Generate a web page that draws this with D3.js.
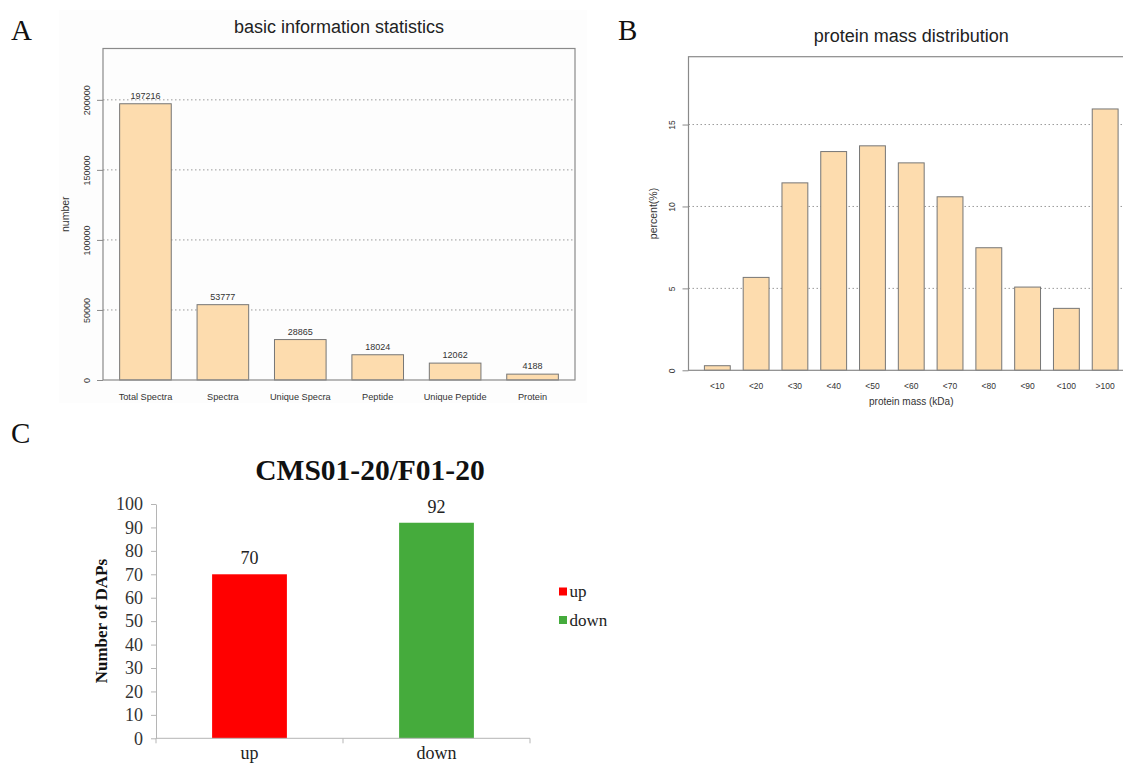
<!DOCTYPE html>
<html>
<head>
<meta charset="utf-8">
<script src="https://cdn.jsdelivr.net/npm/d3@7"></script>
<style>
  body { margin: 0; background: #fff; }
  svg { display: block; }
</style>
</head>
<body>
<svg id="fig" width="1123" height="765"></svg>
<script>
// ---- data ----
var statCategories = ["Total Spectra", "Spectra", "Unique Specra", "Peptide", "Unique Peptide", "Protein"];
var statValues = [197216, 53777, 28865, 18024, 12062, 4188];
var statTicks = [0, 50000, 100000, 150000, 200000];

var massCategories = ["<10", "<20", "<30", "<40", "<50", "<60", "<70", "<80", "<90", "<100", ">100"];
var massPercent = [0.28, 5.67, 11.44, 13.35, 13.70, 12.66, 10.59, 7.48, 5.08, 3.78, 15.95];
var massTicks = [0, 5, 10, 15];

var dapCategories = ["up", "down"];
var dapValues = [70, 92];
var dapColors = ["#ff0000", "#45ab3c"];
var dapTicks = [0, 10, 20, 30, 40, 50, 60, 70, 80, 90, 100];

var svg = d3.select("#fig");
var sans = "'Liberation Sans', Arial, sans-serif";
var serif = "'Liberation Serif', 'Times New Roman', serif";
var barFill = "#fddcae", barStroke = "#767676", boxStroke = "#8a8a8a";

// panel letters
[["A", 11, 40], ["B", 618, 40], ["C", 11, 443]].forEach(function (d) {
  svg.append("text").attr("x", d[1]).attr("y", d[2])
    .attr("font-family", serif).attr("font-size", 29).attr("fill", "#111")
    .text(d[0]);
});

// R style barplot (panels A and B)
function rBarplot(opt) {
  var g = svg.append("g");
  var x = d3.scaleBand()
    .domain(opt.categories)
    .range([opt.left, opt.right])
    .paddingInner(1 / 3)
    .paddingOuter(opt.outer);
  var y = d3.scaleLinear()
    .domain([0, d3.max(opt.values) * 1.2])
    .range([opt.bottom, opt.top]);

  // dotted grid
  g.append("g").selectAll("line")
    .data(opt.ticks.filter(function (t) { return t > 0; }))
    .enter().append("line")
    .attr("x1", opt.left).attr("x2", opt.right)
    .attr("y1", function (d) { return y(d); })
    .attr("y2", function (d) { return y(d); })
    .attr("stroke", "#9a9a9a").attr("stroke-width", 1)
    .attr("stroke-dasharray", "1.5,2.5");

  // bars
  g.append("g").selectAll("rect")
    .data(opt.values)
    .enter().append("rect")
    .attr("x", function (d, i) { return x(opt.categories[i]); })
    .attr("width", x.bandwidth())
    .attr("y", function (d) { return y(d); })
    .attr("height", function (d) { return y(0) - y(d); })
    .attr("fill", barFill).attr("stroke", barStroke).attr("stroke-width", 1);

  if (opt.valueLabels) {
    g.append("g").selectAll("text")
      .data(opt.values)
      .enter().append("text")
      .attr("x", function (d, i) { return x(opt.categories[i]) + x.bandwidth() / 2; })
      .attr("y", function (d) { return y(d) - 5; })
      .attr("text-anchor", "middle")
      .attr("font-family", sans).attr("font-size", 9).attr("fill", "#333")
      .text(function (d) { return d; });
  }

  // box
  g.append("rect")
    .attr("x", opt.left).attr("y", opt.top)
    .attr("width", opt.right - opt.left).attr("height", opt.bottom - opt.top)
    .attr("fill", "none").attr("stroke", boxStroke).attr("stroke-width", 1.2);

  // y axis with rotated labels
  var yAxis = g.append("g").attr("transform", "translate(" + opt.left + ",0)")
    .call(d3.axisLeft(y).tickValues(opt.ticks).tickSize(6).tickFormat(d3.format("d")));
  yAxis.select(".domain").remove();
  yAxis.selectAll(".tick line").attr("stroke", boxStroke);
  yAxis.selectAll(".tick text")
    .attr("x", null).attr("dy", null)
    .attr("transform", "translate(" + (opt.tickLabelX - opt.left) + ",0) rotate(-90)")
    .attr("dy", "0.35em")
    .attr("text-anchor", "middle")
    .attr("font-family", sans).attr("font-size", opt.tickSize).attr("fill", "#333");

  // x labels
  g.append("g").selectAll("text")
    .data(opt.categories)
    .enter().append("text")
    .attr("x", function (d) { return x(d) + x.bandwidth() / 2; })
    .attr("y", opt.xLabelY)
    .attr("text-anchor", "middle")
    .attr("font-family", sans).attr("font-size", opt.xLabelSize).attr("fill", "#333")
    .text(function (d) { return d; });

  // titles
  g.append("text")
    .attr("x", (opt.left + opt.right) / 2).attr("y", opt.titleY)
    .attr("text-anchor", "middle")
    .attr("font-family", sans).attr("font-size", 18).attr("fill", "#222")
    .text(opt.title);
  g.append("text")
    .attr("transform", "translate(" + opt.yTitleX + "," + (opt.top + opt.bottom) / 2 + ") rotate(-90)")
    .attr("dy", "0.35em")
    .attr("text-anchor", "middle")
    .attr("font-family", sans).attr("font-size", 10.5).attr("fill", "#333")
    .text(opt.yTitle);
  if (opt.xTitle) {
    g.append("text")
      .attr("x", (opt.left + opt.right) / 2).attr("y", opt.xTitleY)
      .attr("text-anchor", "middle")
      .attr("font-family", sans).attr("font-size", 10).attr("fill", "#333")
      .text(opt.xTitle);
  }
}

// very faint panel background of figure A
svg.append("rect").attr("x", 59).attr("y", 10).attr("width", 528).attr("height", 393)
  .attr("fill", "#fdfdfd");

rBarplot({
  categories: statCategories, values: statValues, ticks: statTicks,
  left: 103, right: 575, top: 48.5, bottom: 380, outer: 0.215,
  tickLabelX: 87, tickSize: 9, xLabelY: 400, xLabelSize: 9.2,
  valueLabels: true,
  title: "basic information statistics", titleY: 33,
  yTitle: "number", yTitleX: 65
});

rBarplot({
  categories: massCategories, values: massPercent, ticks: massTicks,
  left: 688.5, right: 1134, top: 56.7, bottom: 370.3, outer: 0.41,
  tickLabelX: 672, tickSize: 8.5, xLabelY: 388.5, xLabelSize: 8.5,
  valueLabels: false,
  title: "protein mass distribution", titleY: 42,
  yTitle: "percent(%)", yTitleX: 653,
  xTitle: "protein mass (kDa)", xTitleY: 405
});

// ---- panel C: Excel style column chart ----
var cLeft = 156, cRight = 530, cTop = 504, cBottom = 738.3;
var gc = svg.append("g");
var xc = d3.scaleBand().domain(dapCategories).range([cLeft, cRight])
  .paddingInner(0.6).paddingOuter(0.3);
var yc = d3.scaleLinear().domain([0, 100]).range([cBottom, cTop]);

gc.append("g").selectAll("rect")
  .data(dapValues)
  .enter().append("rect")
  .attr("x", function (d, i) { return xc(dapCategories[i]); })
  .attr("width", xc.bandwidth())
  .attr("y", function (d) { return yc(d); })
  .attr("height", function (d) { return yc(0) - yc(d); })
  .attr("fill", function (d, i) { return dapColors[i]; });

gc.append("g").selectAll("text")
  .data(dapValues)
  .enter().append("text")
  .attr("x", function (d, i) { return xc(dapCategories[i]) + xc.bandwidth() / 2; })
  .attr("y", function (d) { return yc(d) - 10; })
  .attr("text-anchor", "middle")
  .attr("font-family", serif).attr("font-size", 18).attr("fill", "#222")
  .text(function (d) { return d; });

var ycAxis = gc.append("g").attr("transform", "translate(" + cLeft + ",0)")
  .call(d3.axisLeft(yc).tickValues(dapTicks).tickSize(5).tickSizeOuter(0).tickPadding(8));
ycAxis.select(".domain").attr("stroke", "#b5b5b5");
ycAxis.selectAll(".tick line").attr("stroke", "#b5b5b5");
ycAxis.selectAll(".tick text")
  .attr("font-family", serif).attr("font-size", 18).attr("fill", "#333");

// x axis line with category separators
var sepX = [cLeft, (xc("up") + xc.bandwidth() + xc("down")) / 2, cRight];
gc.append("line").attr("x1", cLeft).attr("x2", cRight)
  .attr("y1", cBottom).attr("y2", cBottom).attr("stroke", "#b5b5b5");
gc.append("g").selectAll("line")
  .data(sepX).enter().append("line")
  .attr("x1", function (d) { return d; }).attr("x2", function (d) { return d; })
  .attr("y1", cBottom).attr("y2", cBottom + 5).attr("stroke", "#b5b5b5");

gc.append("g").selectAll("text")
  .data(dapCategories)
  .enter().append("text")
  .attr("x", function (d) { return xc(d) + xc.bandwidth() / 2; })
  .attr("y", 759)
  .attr("text-anchor", "middle")
  .attr("font-family", serif).attr("font-size", 18).attr("fill", "#222")
  .text(function (d) { return d; });

gc.append("text")
  .attr("x", 370).attr("y", 480)
  .attr("text-anchor", "middle")
  .attr("font-family", serif).attr("font-size", 29.5).attr("font-weight", "bold").attr("fill", "#111")
  .text("CMS01-20/F01-20");

gc.append("text")
  .attr("transform", "translate(101," + (cTop + cBottom) / 2 + ") rotate(-90)")
  .attr("dy", "0.35em")
  .attr("text-anchor", "middle")
  .attr("font-family", serif).attr("font-size", 17).attr("font-weight", "bold").attr("fill", "#111")
  .text("Number of DAPs");

// legend
var leg = gc.append("g").selectAll("g")
  .data(dapCategories)
  .enter().append("g")
  .attr("transform", function (d, i) { return "translate(559," + (587.5 + i * 28.5) + ")"; });
leg.append("rect").attr("width", 8).attr("height", 8)
  .attr("fill", function (d, i) { return dapColors[i]; });
leg.append("text").attr("x", 10.5).attr("y", 4).attr("dy", "0.35em")
  .attr("font-family", serif).attr("font-size", 17).attr("fill", "#222")
  .text(function (d) { return d; });
</script>
</body>
</html>
